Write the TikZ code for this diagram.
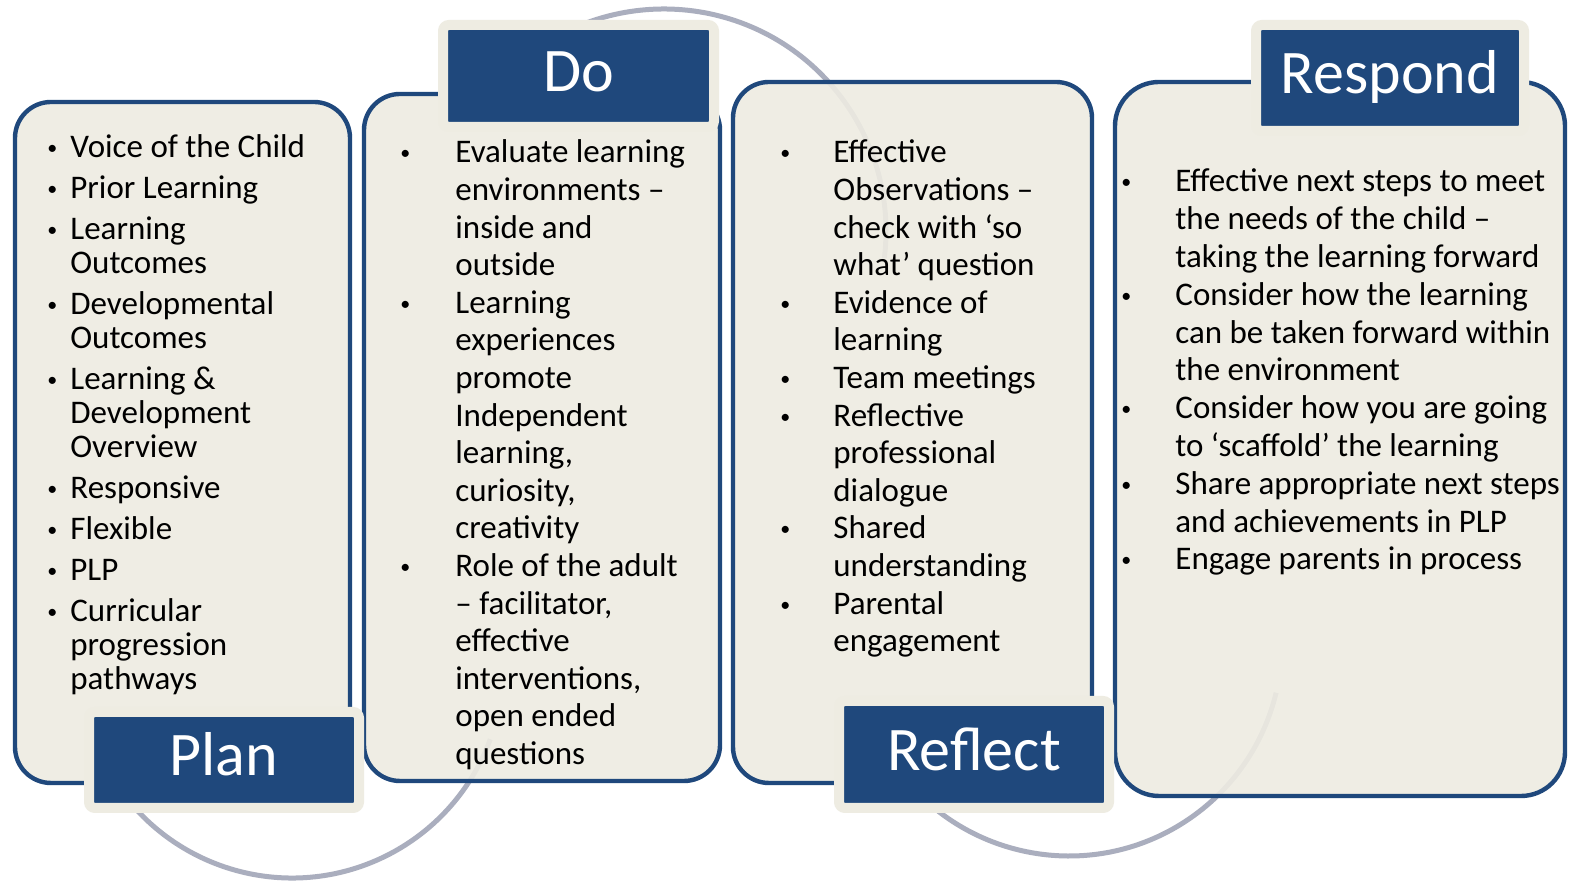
\documentclass[tikz,border=0pt]{standalone}
\usepackage{fontspec}
\setmainfont{Carlito}
\usepackage{xcolor}
\usepackage{tikz}

\definecolor{panelfill}{RGB}{238,236,226}
\definecolor{darkblue}{RGB}{31,72,124}
\definecolor{arcgrey}{RGB}{170,174,190}

% small bullet hung to the left of a line
\newcommand{\bul}[1]{\llap{\raisebox{1.5pt}{\fontsize{10}{10}\selectfont\textbullet}\hspace{#1}}}

\begin{document}
\begin{tikzpicture}[
				x=0.5pt, y=0.5pt,
				font=\fontsize{16.5}{18.8}\selectfont,
				panel/.style={draw=darkblue, line width=2.2pt, fill=panelfill, fill opacity=0.9, rounded corners=18pt, inner sep=0pt},
				title/.style={draw=panelfill, line width=5pt, fill=darkblue, text=white, rounded corners=3pt, inner sep=0pt,
					font=\fontsize{31}{31}\selectfont, text height=20pt, text depth=4pt},
				items/.style={anchor=base west, inner sep=0pt, text=black},
				cyclearc/.style={draw=arcgrey, line width=2.5pt}
				]
				
				\path[use as bounding box, fill=white] (0,0) rectangle (1574,881);
				
				% Arcs behind the panels
				\coordinate (plando) at (292,214);
				\coordinate (doreflect) at (664,650);
				\coordinate (reflectrespond) at (1069,238);
				\draw[cyclearc] (plando) ++(205:105.5pt) arc[start angle=205, end angle=340, radius=105.5pt];
				\draw[cyclearc] (doreflect) ++(130:111pt) arc[start angle=130, end angle=-7, radius=111pt];
				\draw[cyclearc] (reflectrespond) ++(215:106.5pt) arc[start angle=215, end angle=346.5, radius=106.5pt];
				
				% Panels
				\node[panel, minimum width=167.5pt, minimum height=340.5pt] (plan) at (182.5,438.5) {};
				\node[panel, minimum width=178pt, minimum height=343.5pt] (do) at (542,443.5) {};
				\node[panel, minimum width=179.5pt, minimum height=350.5pt] (reflect) at (912.5,448.5) {};
				\node[panel, minimum width=225pt, minimum height=357pt, rounded corners=22pt] (respond) at (1340,442) {};
				
				% Titles
				\node[title, minimum width=135pt, minimum height=48pt] (plantitle) at (224,121) {Plan};
				\node[title, minimum width=135.5pt, minimum height=51pt] (dotitle) at (578.5,805) {Do};
				\node[title, minimum width=135pt, minimum height=53.5pt] (reflecttitle) at (974,126.5) {Reflect};
				\node[title, minimum width=134pt, minimum height=53pt] (respondtitle) at (1390,803) {Respond};
				
				% Lists
				\node[items] (plantext) at (70,723) {\fontsize{16.5}{17}\selectfont
					\begin{tabular}[t]{@{}l@{}}
						\bul{6.5pt}Voice of the Child\\[3.5pt]
						\bul{6.5pt}Prior Learning\\[3.5pt]
						\bul{6.5pt}Learning\\ Outcomes\\[3.5pt]
						\bul{6.5pt}Developmental\\ Outcomes\\[3.5pt]
						\bul{6.5pt}Learning \&\\ Development\\ Overview\\[3.5pt]
						\bul{6.5pt}Responsive\\[3.5pt]
						\bul{6.5pt}Flexible\\[3.5pt]
						\bul{6.5pt}PLP\\[3.5pt]
						\bul{6.5pt}Curricular\\ progression\\ pathways
				\end{tabular}};
				\node[items] (dotext) at (455,718) {%
					\begin{tabular}[t]{@{}l@{}}
						\bul{22.5pt}Evaluate learning\\ environments –\\ inside and\\ outside\\
						\bul{22.5pt}Learning\\ experiences\\ promote\\ Independent\\ learning,\\ curiosity,\\ creativity\\
						\bul{22.5pt}Role of the adult\\ – facilitator,\\ effective\\ interventions,\\ open ended\\ questions
				\end{tabular}};
				\node[items] (reflecttext) at (833,718) {%
					\begin{tabular}[t]{@{}l@{}}
						\bul{21.5pt}Effective\\ Observations –\\ check with ‘so\\ what’ question\\
						\bul{21.5pt}Evidence of\\ learning\\
						\bul{21.5pt}Team meetings\\
						\bul{21.5pt}Reflective\\ professional\\ dialogue\\
						\bul{21.5pt}Shared\\ understanding\\
						\bul{21.5pt}Parental\\ engagement
				\end{tabular}};
				\node[items] (respondtext) at (1175,689) {\fontsize{16.5}{18.9}\selectfont
					\begin{tabular}[t]{@{}l@{}}
						\bul{22pt}Effective next steps to meet\\ the needs of the child –\\ taking the learning forward\\
						\bul{22pt}Consider how the learning\\ can be taken forward within\\ the environment\\
						\bul{22pt}Consider how you are going\\ to ‘scaffold’ the learning\\
						\bul{22pt}Share appropriate next steps\\ and achievements in PLP\\
						\bul{22pt}Engage parents in process
				\end{tabular}};
				
			\end{tikzpicture}
\end{document}
